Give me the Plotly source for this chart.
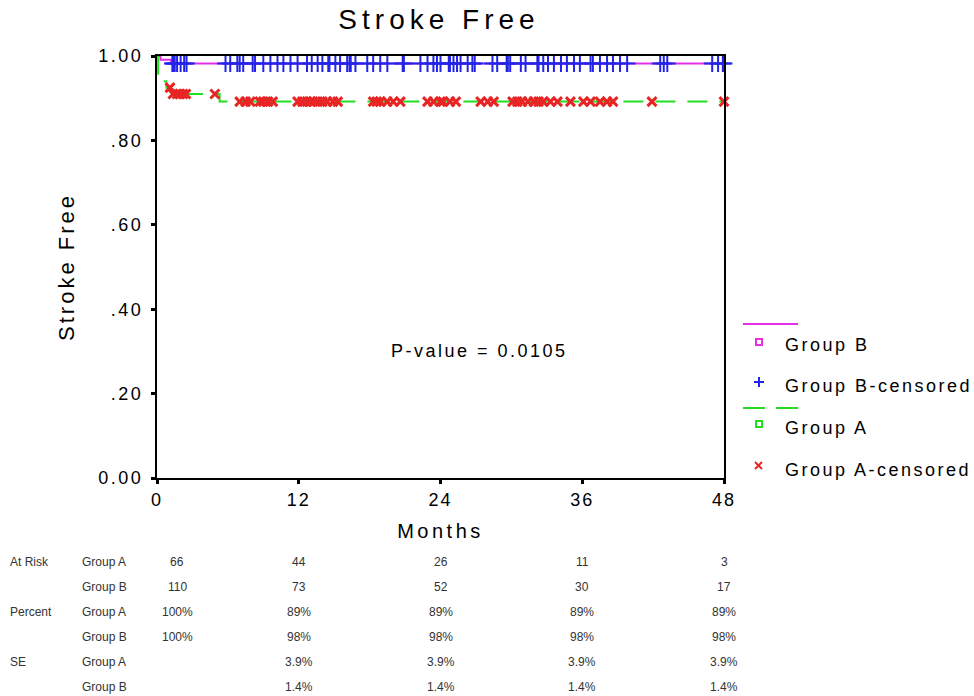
import numpy as np
import plotly.graph_objects as go

W, H = 974, 696
FONT = "Liberation Sans, Arial, sans-serif"

# ---------------- data ----------------
month_ticks = [0, 12, 24, 36, 48]
y_ticks = [0.0, 0.2, 0.4, 0.6, 0.8, 1.0]
y_tick_labels = ["0.00", ".20", ".40", ".60", ".80", "1.00"]

groupB_event_t = [0, 0.3, 1.2, 48]
groupB_surv = [1.0, 0.991, 0.982, 0.982]
groupA_event_t = [0, 0.1, 0.4, 0.8, 1.2, 5.3, 48]
groupA_surv = [1.0, 0.955, 0.94, 0.925, 0.91, 0.892, 0.892]

groupB_censored_t = [1.3, 1.4, 1.5, 1.7, 2.0, 2.3, 2.5, 5.8, 6.2, 6.8, 7.0, 7.3,
                     8.1, 8.3, 9.0, 9.6, 10.2, 10.7, 11.3, 11.9, 12.7, 13.1, 13.6, 14.0,
                     14.5, 14.6, 15.1, 15.5, 16.1, 16.3, 16.4, 16.8, 17.8, 18.3, 18.9,
                     19.5, 20.8, 20.9, 22.3, 22.9, 23.4, 23.7, 24.0, 24.7, 24.8, 25.1,
                     25.4, 25.7, 26.3, 26.7, 26.9, 28.4, 28.8, 29.6, 29.7, 29.9, 30.8,
                     31.2, 32.2, 32.3, 32.7, 33.1, 33.6, 34.2, 34.7, 35.3, 35.8, 36.7,
                     36.9, 37.5, 38.1, 38.6, 39.2, 39.8, 42.6, 42.9, 43.2, 47.0, 47.5,
                     47.9, 48.0]
groupA_censored_t = [1.1, 1.35, 1.7, 1.95, 2.2, 2.45, 4.9, 7.0, 7.5, 7.9, 8.7, 9.0, 9.4,
                     9.8, 11.9, 12.3, 12.7, 13.0, 13.2, 13.6, 14.0, 14.4, 14.9, 15.3,
                     18.3, 18.6, 18.9, 19.5, 20.0, 20.6, 22.9, 23.4, 24.0, 24.2, 24.8,
                     25.3, 27.4, 28.0, 28.5, 30.1, 30.5, 30.9, 31.4, 31.9, 32.3, 32.7,
                     33.3, 33.9, 35.0, 36.1, 36.7, 37.5, 38.1, 38.6, 41.9, 48.0]

p_value_text = "P-value = 0.0105"
p_value_pos = (27.3, 0.30)

legend_labels = ["Group B", "Group B-censored", "Group A", "Group A-censored"]

table_sections = ["At Risk", "", "Percent", "", "SE", ""]
table_groups = ["Group A", "Group B", "Group A", "Group B", "Group A", "Group B"]
at_risk_A = ["66", "44", "26", "11", "3"]
at_risk_B = ["110", "73", "52", "30", "17"]
pct_A = ["100%", "89%", "89%", "89%", "89%"]
pct_B = ["100%", "98%", "98%", "98%", "98%"]
se_A = ["", "3.9%", "3.9%", "3.9%", "3.9%"]
se_B = ["", "1.4%", "1.4%", "1.4%", "1.4%"]
table_values = [at_risk_A, at_risk_B, pct_A, pct_B, se_A, se_B]

# ---------------- styles ----------------
C_MAG = "#e62ee6"
C_BLUE = "#2424e8"
C_GREEN = "#22dd22"
C_RED = "#e82424"


def px_x(p):
    return p / W


def px_y(p):
    return 1 - p / H


def surv_at(times, surv, t):
    idx = np.searchsorted(np.asarray(times), np.asarray(t), side="right") - 1
    return np.asarray(surv)[idx]


fig = go.Figure()

fig.add_trace(go.Scatter(x=groupB_event_t, y=groupB_surv, mode="lines",
                         line=dict(color=C_MAG, width=2, shape="hv"),
                         name="Group B", hoverinfo="skip"))
fig.add_trace(go.Scatter(x=groupB_censored_t,
                         y=surv_at(groupB_event_t, groupB_surv, groupB_censored_t),
                         mode="markers", cliponaxis=False,
                         marker=dict(symbol="cross-thin", size=12,
                                     line=dict(color=C_BLUE, width=2)),
                         name="Group B-censored"))
fig.add_trace(go.Scatter(x=groupA_event_t, y=groupA_surv, mode="lines",
                         line=dict(color=C_GREEN, width=2, shape="hv", dash="20px,12px"),
                         name="Group A"))
fig.add_trace(go.Scatter(x=groupA_censored_t,
                         y=surv_at(groupA_event_t, groupA_surv, groupA_censored_t),
                         mode="markers", cliponaxis=False,
                         marker=dict(symbol="x-thin", size=9,
                                     line=dict(color=C_RED, width=3)),
                         name="Group A-censored"))

annotations = []
annotations.append(dict(x=p_value_pos[0], y=p_value_pos[1], xref="x", yref="y",
                        text=p_value_text, showarrow=False,
                        font=dict(size=18, color="black"),
                        xanchor="center", yanchor="middle"))

# legend (custom, drawn in page pixels)
shapes = []
shapes.append(dict(type="line", xref="paper", yref="paper",
                   x0=px_x(743), x1=px_x(798), y0=px_y(324), y1=px_y(324),
                   line=dict(color=C_MAG, width=2)))
shapes.append(dict(type="rect", xref="paper", yref="paper",
                   x0=px_x(756), x1=px_x(762), y0=px_y(339), y1=px_y(345),
                   line=dict(color=C_MAG, width=2)))
shapes.append(dict(type="line", xref="paper", yref="paper",
                   x0=px_x(754), x1=px_x(764), y0=px_y(382), y1=px_y(382),
                   line=dict(color=C_BLUE, width=2)))
shapes.append(dict(type="line", xref="paper", yref="paper",
                   x0=px_x(759), x1=px_x(759), y0=px_y(377), y1=px_y(387),
                   line=dict(color=C_BLUE, width=2)))
for a, b in [(743, 765), (776, 798)]:
    shapes.append(dict(type="line", xref="paper", yref="paper",
                       x0=px_x(a), x1=px_x(b), y0=px_y(408), y1=px_y(408),
                       line=dict(color=C_GREEN, width=2)))
shapes.append(dict(type="rect", xref="paper", yref="paper",
                   x0=px_x(756), x1=px_x(762), y0=px_y(421), y1=px_y(427),
                   line=dict(color=C_GREEN, width=2)))
shapes.append(dict(type="line", xref="paper", yref="paper",
                   x0=px_x(755), x1=px_x(762), y0=px_y(462), y1=px_y(469),
                   line=dict(color=C_RED, width=2)))
shapes.append(dict(type="line", xref="paper", yref="paper",
                   x0=px_x(755), x1=px_x(762), y0=px_y(469), y1=px_y(462),
                   line=dict(color=C_RED, width=2)))

for lab, yy in zip(legend_labels, [345, 386, 428, 470]):
    annotations.append(dict(x=px_x(783), y=px_y(yy), xref="paper", yref="paper",
                            text=lab, showarrow=False, xanchor="left", yanchor="middle",
                            align="left", font=dict(size=18, color="black")))

# table under the chart
row_y = [562, 587, 612, 637, 662, 687]
TCOL = "#333333"
for sec, grp, vals, yy in zip(table_sections, table_groups, table_values, row_y):
    if sec:
        annotations.append(dict(x=px_x(8), y=px_y(yy), xref="paper", yref="paper",
                                text=sec, showarrow=False, xanchor="left", yanchor="middle",
                                align="left", font=dict(size=12, color=TCOL)))
    annotations.append(dict(x=px_x(80), y=px_y(yy), xref="paper", yref="paper",
                            text=grp, showarrow=False, xanchor="left", yanchor="middle",
                            align="left", font=dict(size=12, color=TCOL)))
    for i, (m, v) in enumerate(zip(month_ticks, vals)):
        if v == "":
            continue
        annotations.append(dict(x=m, y=px_y(yy), xref="x", yref="paper",
                                xshift=20 if i == 0 else 0,
                                text=v, showarrow=False, xanchor="center", yanchor="middle",
                                font=dict(size=12, color=TCOL)))

fig.update_layout(
    template="none",
    width=W, height=H,
    margin=dict(l=0, r=0, t=0, b=0, pad=0, autoexpand=False),
    paper_bgcolor="white", plot_bgcolor="white",
    showlegend=False,
    font=dict(family=FONT, color="black"),
    title=dict(text="Stroke Free", x=px_x(439), xanchor="center",
               y=px_y(19), yanchor="middle", font=dict(size=28, color="black"),
               automargin=False),
    xaxis=dict(domain=[px_x(157), px_x(724)], range=[0, 48], automargin=False,
               tickmode="array", tickvals=month_ticks,
               ticks="outside", ticklen=4, tickwidth=3, tickcolor="black",
               showline=True, linecolor="black", linewidth=2, mirror=True,
               showgrid=False, zeroline=False,
               tickfont=dict(size=18, color="black"),
               title=dict(text="Months", font=dict(size=20, color="black"), standoff=15)),
    yaxis=dict(domain=[px_y(478), px_y(56)], range=[0, 1], automargin=False,
               tickmode="array", tickvals=y_ticks, ticktext=y_tick_labels,
               ticks="outside", ticklen=4, tickwidth=3, tickcolor="black",
               showline=True, linecolor="black", linewidth=2, mirror=True,
               showgrid=False, zeroline=False,
               ticklabelstandoff=4,
               tickfont=dict(size=18, color="black"),
               title=dict(text="Stroke Free", font=dict(size=22, color="black"), standoff=28)),
    annotations=annotations,
    shapes=shapes,
)

post_script = """
var gd = document.getElementById('{plot_id}');
function sp(sel, v){ gd.querySelectorAll(sel).forEach(function(e){ e.style.letterSpacing = v; }); }
sp('.gtitle', '5px');
sp('.xtitle', '3.5px');
sp('.ytitle', '3px');
sp('.xtick text', '2px');
sp('.ytick text', '2.5px');
gd.querySelectorAll('.annotation-text').forEach(function(e){
  if (parseFloat(e.style.fontSize) >= 15) { e.style.letterSpacing = '2.5px'; }
});
"""

fig.write_html("out.html", post_script=post_script)
